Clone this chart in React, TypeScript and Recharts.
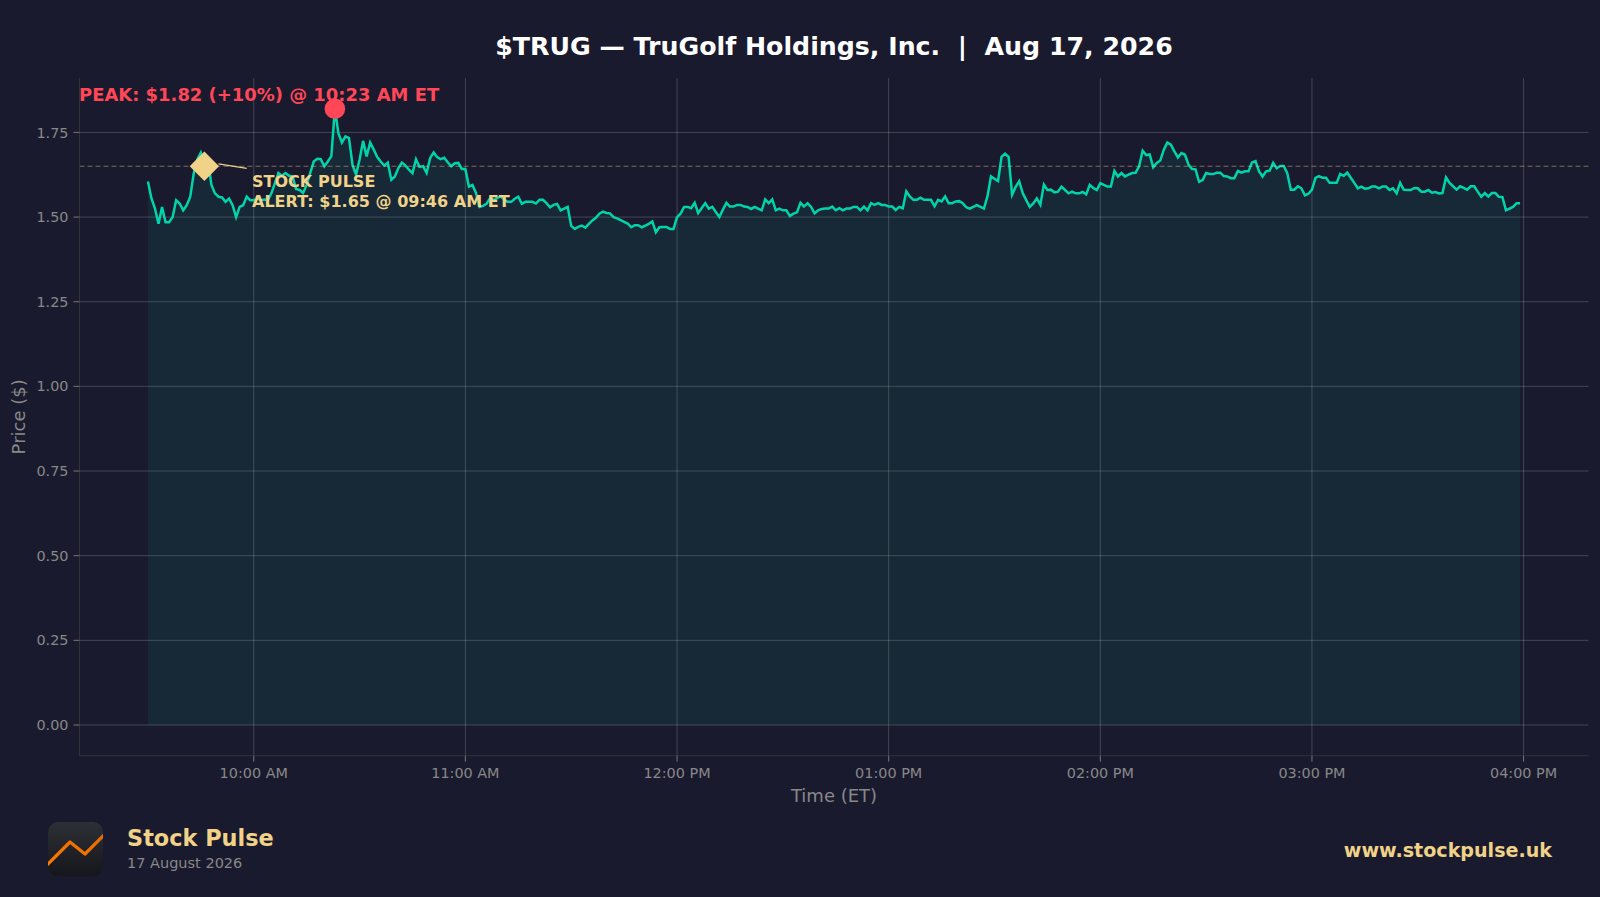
import React from "react";
import {
  Area,
  CartesianGrid,
  ComposedChart,
  ReferenceDot,
  ReferenceLine,
  XAxis,
  YAxis,
} from "recharts";

const FONT = "'DejaVu Sans', sans-serif";
const GOLD = "#f0d288";
const TEAL = "#00d4aa";
const RED = "#ff4757";

// one close per minute, from 09:30 to 15:59
const prices = [
  1.605, 1.555, 1.525, 1.48, 1.53, 1.485, 1.485, 1.5, 1.55, 1.54,
  1.52, 1.535, 1.56, 1.63, 1.67, 1.69, 1.66, 1.67, 1.595, 1.57,
  1.56, 1.558, 1.545, 1.555, 1.535, 1.5, 1.53, 1.535, 1.56, 1.55,
  1.55, 1.555, 1.55, 1.552, 1.55, 1.57, 1.6, 1.63, 1.622, 1.63,
  1.622, 1.62, 1.583, 1.58, 1.571, 1.595, 1.63, 1.664, 1.672, 1.671,
  1.65, 1.664, 1.68, 1.82, 1.748, 1.72, 1.738, 1.733, 1.654, 1.625,
  1.67, 1.725, 1.679, 1.72, 1.7, 1.677, 1.664, 1.652, 1.661, 1.61,
  1.62, 1.645, 1.661, 1.652, 1.64, 1.63, 1.671, 1.648, 1.65, 1.63,
  1.674, 1.691, 1.677, 1.671, 1.675, 1.662, 1.65, 1.659, 1.66, 1.642,
  1.642, 1.59, 1.595, 1.571, 1.53, 1.533, 1.539, 1.556, 1.551, 1.556,
  1.561, 1.551, 1.545, 1.545, 1.554, 1.56, 1.539, 1.545, 1.545, 1.545,
  1.54, 1.551, 1.551, 1.541, 1.529, 1.536, 1.539, 1.52, 1.525, 1.53,
  1.474, 1.465, 1.471, 1.475, 1.469, 1.48, 1.49, 1.498, 1.51, 1.516,
  1.512, 1.511, 1.5, 1.496, 1.491, 1.486, 1.481, 1.47, 1.476, 1.476,
  1.47, 1.475, 1.48, 1.487, 1.455, 1.47, 1.471, 1.471, 1.465, 1.465,
  1.5, 1.51, 1.53, 1.53, 1.526, 1.542, 1.512, 1.527, 1.541, 1.525,
  1.53, 1.515, 1.5, 1.522, 1.542, 1.531, 1.531, 1.536, 1.536, 1.531,
  1.53, 1.524, 1.53, 1.525, 1.52, 1.552, 1.541, 1.552, 1.52, 1.525,
  1.52, 1.52, 1.503, 1.51, 1.514, 1.542, 1.531, 1.541, 1.53, 1.511,
  1.52, 1.524, 1.525, 1.525, 1.531, 1.52, 1.526, 1.52, 1.525, 1.525,
  1.53, 1.53, 1.52, 1.531, 1.52, 1.541, 1.536, 1.541, 1.536, 1.536,
  1.531, 1.531, 1.521, 1.53, 1.526, 1.576, 1.561, 1.551, 1.551, 1.557,
  1.551, 1.551, 1.551, 1.532, 1.551, 1.546, 1.561, 1.541, 1.541, 1.546,
  1.547, 1.541, 1.529, 1.525, 1.53, 1.535, 1.53, 1.525, 1.561, 1.62,
  1.613, 1.606, 1.678, 1.687, 1.678, 1.566, 1.589, 1.606, 1.571, 1.55,
  1.53, 1.54, 1.555, 1.536, 1.596, 1.58, 1.581, 1.573, 1.575, 1.59,
  1.58, 1.57, 1.575, 1.57, 1.57, 1.574, 1.567, 1.595, 1.586, 1.58,
  1.6, 1.595, 1.59, 1.59, 1.636, 1.62, 1.63, 1.62, 1.625, 1.63,
  1.631, 1.65, 1.696, 1.683, 1.685, 1.647, 1.66, 1.667, 1.699, 1.72,
  1.714, 1.694, 1.676, 1.689, 1.684, 1.655, 1.642, 1.641, 1.604, 1.609,
  1.63, 1.627, 1.627, 1.631, 1.631, 1.621, 1.62, 1.615, 1.615, 1.636,
  1.631, 1.635, 1.635, 1.661, 1.665, 1.635, 1.62, 1.635, 1.637, 1.66,
  1.644, 1.651, 1.651, 1.63, 1.581, 1.581, 1.591, 1.585, 1.564, 1.569,
  1.581, 1.616, 1.621, 1.616, 1.616, 1.601, 1.601, 1.601, 1.627, 1.622,
  1.631, 1.616, 1.601, 1.585, 1.59, 1.584, 1.585, 1.59, 1.59, 1.585,
  1.59, 1.59, 1.58, 1.585, 1.57, 1.601, 1.581, 1.58, 1.58, 1.586,
  1.585, 1.575, 1.575, 1.58, 1.572, 1.574, 1.57, 1.571, 1.617, 1.601,
  1.591, 1.581, 1.591, 1.586, 1.581, 1.591, 1.591, 1.575, 1.56, 1.571,
  1.561, 1.571, 1.571, 1.56, 1.559, 1.52, 1.525, 1.53, 1.541, 1.541,
];

const OPEN_MINUTE = 570;
const xTicks = [600, 660, 720, 780, 840, 900, 960];
const xTickLabels = ["10:00 AM", "11:00 AM", "12:00 PM", "01:00 PM", "02:00 PM", "03:00 PM", "04:00 PM"];
const yTicks = [0, 0.25, 0.5, 0.75, 1, 1.25, 1.5, 1.75];

const ALERT_PRICE = 1.65;
const ALERT_MINUTE = 586;
const PEAK_PRICE = 1.82;
const PEAK_MINUTE = 623;

const chartData = prices.map((price, i) => ({ minute: OPEN_MINUTE + i, price }));

const diamond = (props: any) => {
  const { cx, cy } = props;
  const r = 14.7;
  return <polygon points={`${cx - r},${cy} ${cx},${cy - r} ${cx + r},${cy} ${cx},${cy + r}`} fill={GOLD} />;
};

function Overlay() {
  return (
    <svg
      width={1600}
      height={897}
      style={{ position: "absolute", left: 0, top: 0, pointerEvents: "none" }}
      fontFamily={FONT}
    >
      <defs>
        <linearGradient id="logoBg" x1="0" y1="0" x2="0" y2="1">
          <stop offset="0%" stopColor="#2d3036" />
          <stop offset="100%" stopColor="#15161b" />
        </linearGradient>
        <linearGradient id="logoLine" x1="0" y1="1" x2="1" y2="0">
          <stop offset="0%" stopColor="#ff7a00" />
          <stop offset="100%" stopColor="#e86a00" />
        </linearGradient>
        <clipPath id="logoClip">
          <rect x={48} y={822} width={55} height={54.5} rx={10} />
        </clipPath>
      </defs>

      <text x={834} y={54.5} textAnchor="middle" fill="#ffffff" fontWeight="bold" fontSize={25.25} xmlSpace="preserve">
        $TRUG — TruGolf Holdings, Inc.  |  Aug 17, 2026
      </text>

      <text x={79} y={100.8} fill={RED} fontWeight="bold" fontSize={17.95}>
        PEAK: $1.82 (+10%) @ 10:23 AM ET
      </text>
      <text x={252} y={187.3} fill={GOLD} fontWeight="bold" fontSize={16.05}>
        STOCK PULSE
      </text>
      <text x={252} y={206.8} fill={GOLD} fontWeight="bold" fontSize={16.05}>
        ALERT: $1.65 @ 09:46 AM ET
      </text>

      <rect x={48} y={822} width={55} height={54.5} rx={10} fill="url(#logoBg)" />
      <polyline
        points="44,868 70,842 85,854 106,833"
        fill="none"
        stroke="url(#logoLine)"
        strokeWidth={3.2}
        strokeLinejoin="round"
        clipPath="url(#logoClip)"
      />

      <text x={127} y={845.8} fill={GOLD} fontWeight="bold" fontSize={22.4}>
        Stock Pulse
      </text>
      <text x={127} y={867.5} fill="#888888" fontSize={14.5}>
        17 August 2026
      </text>
      <text x={1552} y={856.5} textAnchor="end" fill={GOLD} fontWeight="bold" fontSize={19.1}>
        www.stockpulse.uk
      </text>
    </svg>
  );
}

export default function App() {
  return (
    <div style={{ position: "absolute", left: 0, top: 0, width: 1600, height: 897, background: "#1a1a2e", overflow: "hidden" }}>
      <ComposedChart
        width={1600}
        height={897}
        data={chartData}
        margin={{ top: 78, right: 11.5, bottom: 81.3, left: 0 }}
      >
        <CartesianGrid stroke="#ffffff" strokeOpacity={0.19} strokeWidth={1} syncWithTicks />
        <XAxis
          dataKey="minute"
          type="number"
          domain={[550.6, 978.4]}
          ticks={xTicks}
          interval={0}
          height={60}
          tickFormatter={(m: number) => xTickLabels[xTicks.indexOf(m)]}
          tick={{ fill: "#888888", fontSize: 14.4, fontFamily: FONT }}
          tickLine={{ stroke: "#777777" }}
          tickSize={6}
          tickMargin={6}
          axisLine={{ stroke: "#333333" }}
          label={{ value: "Time (ET)", position: "insideBottom", offset: 14, fill: "#888888", fontSize: 18, fontFamily: FONT }}
        />
        <YAxis
          type="number"
          domain={[-0.0907, 1.9107]}
          ticks={yTicks}
          interval={0}
          width={79.5}
          tickFormatter={(v: number) => v.toFixed(2)}
          tick={{ fill: "#888888", fontSize: 14.4, fontFamily: FONT }}
          tickLine={{ stroke: "#777777" }}
          tickSize={6}
          tickMargin={5}
          axisLine={{ stroke: "#333333" }}
          label={{ value: "Price ($)", angle: -90, position: "insideLeft", offset: 19, fill: "#888888", fontSize: 18, fontFamily: FONT, style: { textAnchor: "middle" } }}
        />
        <ReferenceLine y={ALERT_PRICE} stroke={GOLD} strokeOpacity={0.45} strokeDasharray="5 3" strokeWidth={1} />
        <Area
          dataKey="price"
          type="linear"
          stroke={TEAL}
          strokeWidth={2.5}
          fill={TEAL}
          fillOpacity={0.08}
          dot={false}
          activeDot={false}
          isAnimationActive={false}
        />
        <ReferenceLine
          segment={[
            { x: 590, y: 1.657 },
            { x: 598, y: 1.644 },
          ]}
          stroke={GOLD}
          strokeWidth={1.2}
        />
        <ReferenceDot x={ALERT_MINUTE} y={ALERT_PRICE} shape={diamond} />
        <ReferenceDot x={PEAK_MINUTE} y={PEAK_PRICE} r={10.3} fill={RED} stroke="none" />
      </ComposedChart>
      <Overlay />
    </div>
  );
}
